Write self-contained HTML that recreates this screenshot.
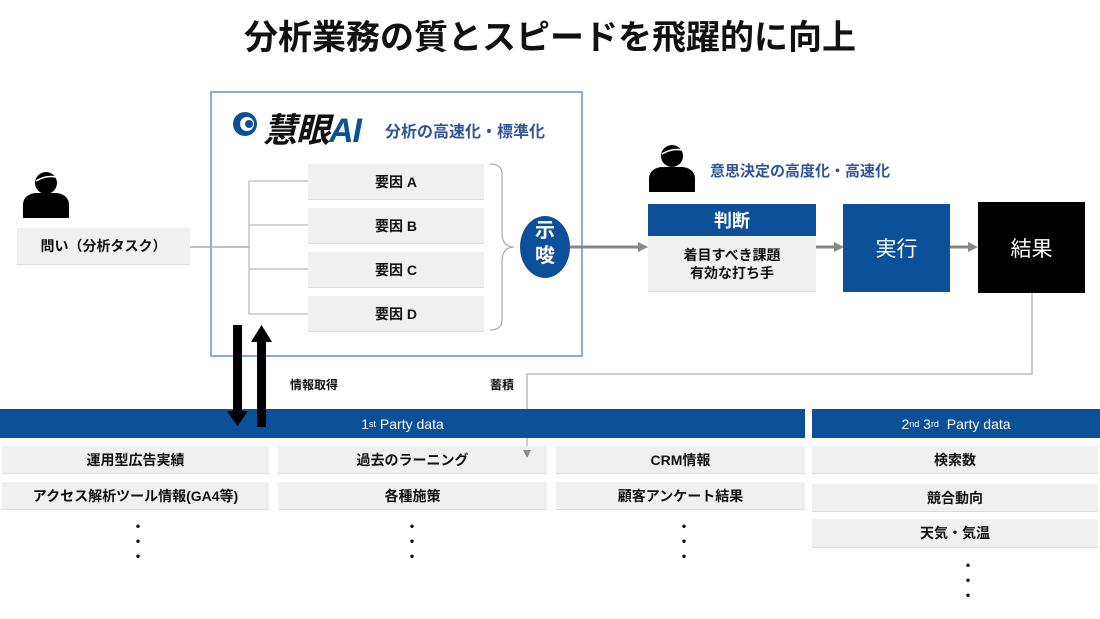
<!DOCTYPE html>
<html><head><meta charset="utf-8"><style>
*{margin:0;padding:0;box-sizing:border-box}
body{width:1100px;height:619px;background:#fff;position:relative;overflow:hidden;font-family:"Liberation Sans","Noto Sans CJK JP",sans-serif;font-weight:bold;color:#111}
.a{position:absolute}
.g{position:absolute;background:#f0f0f0;display:flex;align-items:center;justify-content:center;font-size:14px;border-bottom:1px solid #ddd}
.bar{position:absolute;background:#0b5099;color:#fff;display:flex;align-items:center;justify-content:center;font-size:14px;font-weight:normal}
.dot{position:absolute;font-size:14px;line-height:15px;width:10px;text-align:center}
sup{font-size:9px}
</style></head><body>
<div class="a" style="left:0;top:10px;width:1100px;text-align:center;font-size:34px;">分析業務の質とスピードを飛躍的に向上</div>

<svg class="a" style="left:0;top:0" width="1100" height="619">
<rect x="211" y="92" width="371" height="264" fill="none" stroke="#8eaadb" stroke-width="2"/>
<circle cx="245" cy="124" r="12" fill="#0b5099"/><circle cx="247" cy="124" r="7" fill="#fff"/><circle cx="249" cy="124" r="4" fill="#0b5099"/>
<line x1="190" y1="247" x2="249" y2="247" stroke="#aaa" stroke-width="1.5"/>
<path d="M308 181H249V314H308M249 225H308M249 269H308" fill="none" stroke="#aaa" stroke-width="1"/>
<path d="M490 164q12 0 12 10v58q0 15 12 15q-12 0-12 15v58q0 10-12 10" fill="none" stroke="#aaa" stroke-width="1.2"/>
<ellipse cx="545" cy="247" rx="25" ry="31" fill="#0b5099"/>
<line x1="570" y1="247" x2="640" y2="247" stroke="#888" stroke-width="3"/><path d="M638 242L648 247L638 252Z" fill="#888"/>
<line x1="816" y1="247" x2="836" y2="247" stroke="#888" stroke-width="3"/><path d="M834 242L844 247L834 252Z" fill="#888"/>
<line x1="950" y1="247" x2="970" y2="247" stroke="#888" stroke-width="3"/><path d="M968 242L978 247L968 252Z" fill="#888"/>
<path d="M1032 293V374H527V452" fill="none" stroke="#bbb" stroke-width="1.5"/>
<g fill="#000"><circle cx="46" cy="183" r="11"/><path d="M23 218V205q0-10 12-12h22q12 2 12 12v13Z"/>
<circle cx="672" cy="156" r="11"/><path d="M649 192V179q0-10 12-12h22q12 2 12 12v13Z"/></g>
<path d="M36 181q10-6 20-4" stroke="#fff" stroke-width="1.5" fill="none"/><path d="M662 154q10-6 20-4" stroke="#fff" stroke-width="1.5" fill="none"/>
</svg>

<div class="a" style="left:263px;top:103px;font-size:34px;font-style:italic;letter-spacing:-1px;">慧眼<span style="color:#0b5099">AI</span></div>
<div class="a" style="left:385px;top:118px;font-size:16px;color:#2f5597">分析の高速化・標準化</div>
<div class="g" style="left:308px;top:164px;width:176px;height:36px">要因 A</div>
<div class="g" style="left:308px;top:208px;width:176px;height:36px">要因 B</div>
<div class="g" style="left:308px;top:252px;width:176px;height:36px">要因 C</div>
<div class="g" style="left:308px;top:296px;width:176px;height:36px">要因 D</div>
<div class="a" style="left:520px;top:219px;width:50px;text-align:center;color:#fff;font-size:20px;line-height:25px;font-weight:bold">示<br>唆</div>

<div class="g" style="left:17px;top:228px;width:173px;height:37px">問い（分析タスク）</div>
<div class="a" style="left:710px;top:160px;font-size:15px;color:#2f5597">意思決定の高度化・高速化</div>
<div class="bar" style="left:648px;top:204px;width:168px;height:32px;font-size:18px;font-weight:bold">判断</div>
<div class="g" style="left:648px;top:236px;width:168px;height:56px;font-size:14px;line-height:18px;text-align:center">着目すべき課題<br>有効な打ち手</div>
<div class="bar" style="left:843px;top:204px;width:107px;height:88px;font-size:21px">実行</div>
<div class="a" style="left:978px;top:202px;width:107px;height:91px;background:#000;color:#fff;display:flex;align-items:center;justify-content:center;font-size:21px;font-weight:normal">結果</div>

<div class="a" style="left:290px;top:376px;font-size:12px">情報取得</div>
<div class="a" style="left:490px;top:376px;font-size:12px">蓄積</div>

<div class="bar" style="left:0;top:409px;width:805px;height:29px">1<sup>st</sup>&nbsp;Party data</div>
<div class="bar" style="left:812px;top:409px;width:288px;height:29px">2<sup>nd</sup>&nbsp;3<sup>rd</sup>&nbsp; Party data</div>

<div class="g" style="left:2px;top:446px;width:267px;height:28px">運用型広告実績</div>
<div class="g" style="left:2px;top:482px;width:267px;height:28px">アクセス解析ツール情報(GA4等)</div>
<div class="g" style="left:278px;top:446px;width:269px;height:28px">過去のラーニング</div>
<div class="g" style="left:278px;top:482px;width:269px;height:28px">各種施策</div>
<div class="g" style="left:556px;top:446px;width:249px;height:28px">CRM情報</div>
<div class="g" style="left:556px;top:482px;width:249px;height:28px">顧客アンケート結果</div>
<div class="g" style="left:812px;top:446px;width:286px;height:28px">検索数</div>
<div class="g" style="left:812px;top:484px;width:286px;height:28px">競合動向</div>
<div class="g" style="left:812px;top:519px;width:286px;height:29px">天気・気温</div>

<div class="dot" style="left:131px;top:520px">・<br>・<br>・</div>
<div class="dot" style="left:405px;top:520px">・<br>・<br>・</div>
<div class="dot" style="left:677px;top:520px">・<br>・<br>・</div>
<div class="dot" style="left:961px;top:559px">・<br>・<br>・</div>

<svg class="a" style="left:0;top:0" width="1100" height="619">
<path d="M523 450L527 458L531 450Z" fill="#888"/>
<rect x="233" y="325" width="9" height="88" fill="#000"/><path d="M227 411H248L237.5 426Z" fill="#000"/>
<rect x="257" y="340" width="9" height="87" fill="#000"/><path d="M251 342H272L261.5 325Z" fill="#000"/>
</svg>
</body></html>
